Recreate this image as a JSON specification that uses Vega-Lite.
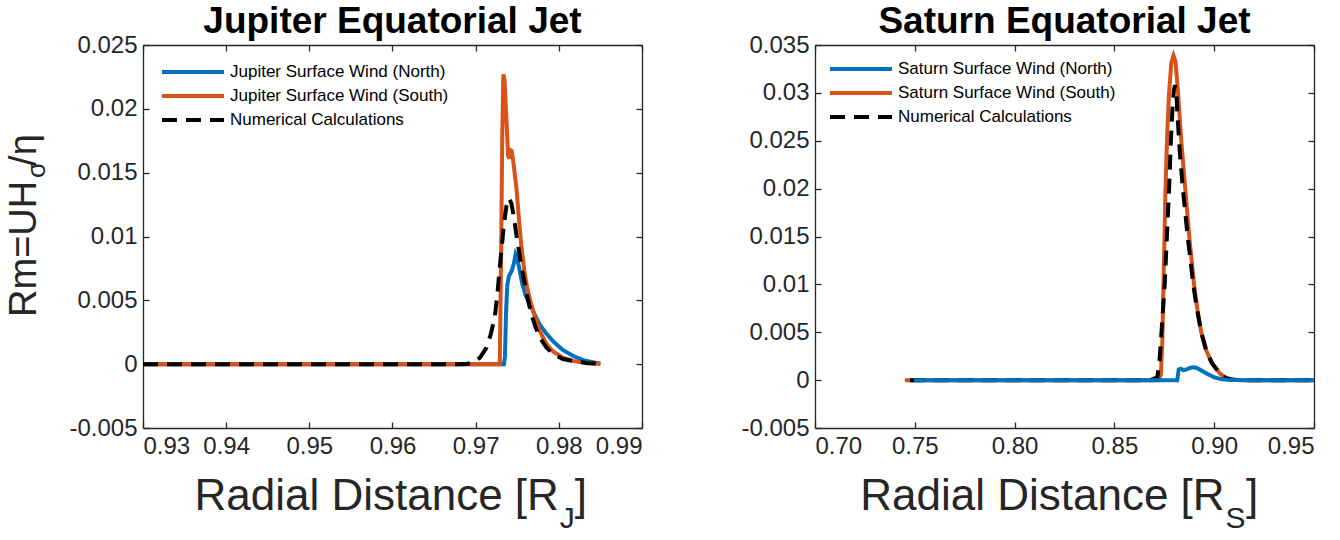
{
  "$schema": "https://vega.github.io/schema/vega-lite/v6.json",
  "background": "white",
  "padding": {"left": 5, "top": 3, "right": 0, "bottom": 0},
  "datasets": {
    "jupiter": [
      {"r": 0.930, "rm": 0, "series": "Jupiter Surface Wind (North)"},
      {"r": 0.9734, "rm": 0, "series": "Jupiter Surface Wind (North)"},
      {"r": 0.97352, "rm": 0.0006, "series": "Jupiter Surface Wind (North)"},
      {"r": 0.97365, "rm": 0.0040, "series": "Jupiter Surface Wind (North)"},
      {"r": 0.9738, "rm": 0.0062, "series": "Jupiter Surface Wind (North)"},
      {"r": 0.9740, "rm": 0.0069, "series": "Jupiter Surface Wind (North)"},
      {"r": 0.97433, "rm": 0.0073, "series": "Jupiter Surface Wind (North)"},
      {"r": 0.9746, "rm": 0.0079, "series": "Jupiter Surface Wind (North)"},
      {"r": 0.9748, "rm": 0.0086, "series": "Jupiter Surface Wind (North)"},
      {"r": 0.9750, "rm": 0.0083, "series": "Jupiter Surface Wind (North)"},
      {"r": 0.9753, "rm": 0.0073, "series": "Jupiter Surface Wind (North)"},
      {"r": 0.9756, "rm": 0.0063, "series": "Jupiter Surface Wind (North)"},
      {"r": 0.9760, "rm": 0.0054, "series": "Jupiter Surface Wind (North)"},
      {"r": 0.9765, "rm": 0.0047, "series": "Jupiter Surface Wind (North)"},
      {"r": 0.9771, "rm": 0.0039, "series": "Jupiter Surface Wind (North)"},
      {"r": 0.9777, "rm": 0.0031, "series": "Jupiter Surface Wind (North)"},
      {"r": 0.9785, "rm": 0.0024, "series": "Jupiter Surface Wind (North)"},
      {"r": 0.9793, "rm": 0.0018, "series": "Jupiter Surface Wind (North)"},
      {"r": 0.9805, "rm": 0.0011, "series": "Jupiter Surface Wind (North)"},
      {"r": 0.9817, "rm": 0.00065, "series": "Jupiter Surface Wind (North)"},
      {"r": 0.9830, "rm": 0.0003, "series": "Jupiter Surface Wind (North)"},
      {"r": 0.9845, "rm": 0.0001, "series": "Jupiter Surface Wind (North)"},
      {"r": 0.9850, "rm": 0.00005, "series": "Jupiter Surface Wind (North)"},

      {"r": 0.930, "rm": 0, "series": "Jupiter Surface Wind (South)"},
      {"r": 0.9729, "rm": 0, "series": "Jupiter Surface Wind (South)"},
      {"r": 0.97305, "rm": 0.008, "series": "Jupiter Surface Wind (South)"},
      {"r": 0.9732, "rm": 0.018, "series": "Jupiter Surface Wind (South)"},
      {"r": 0.97333, "rm": 0.0227, "series": "Jupiter Surface Wind (South)"},
      {"r": 0.97348, "rm": 0.0222, "series": "Jupiter Surface Wind (South)"},
      {"r": 0.9736, "rm": 0.0205, "series": "Jupiter Surface Wind (South)"},
      {"r": 0.97375, "rm": 0.0185, "series": "Jupiter Surface Wind (South)"},
      {"r": 0.9739, "rm": 0.0163, "series": "Jupiter Surface Wind (South)"},
      {"r": 0.97405, "rm": 0.0161, "series": "Jupiter Surface Wind (South)"},
      {"r": 0.9741, "rm": 0.0168, "series": "Jupiter Surface Wind (South)"},
      {"r": 0.97433, "rm": 0.0167, "series": "Jupiter Surface Wind (South)"},
      {"r": 0.9745, "rm": 0.0160, "series": "Jupiter Surface Wind (South)"},
      {"r": 0.9749, "rm": 0.0138, "series": "Jupiter Surface Wind (South)"},
      {"r": 0.9752, "rm": 0.0114, "series": "Jupiter Surface Wind (South)"},
      {"r": 0.9755, "rm": 0.0092, "series": "Jupiter Surface Wind (South)"},
      {"r": 0.9758, "rm": 0.0076, "series": "Jupiter Surface Wind (South)"},
      {"r": 0.9761, "rm": 0.0063, "series": "Jupiter Surface Wind (South)"},
      {"r": 0.9765, "rm": 0.0051, "series": "Jupiter Surface Wind (South)"},
      {"r": 0.9769, "rm": 0.0042, "series": "Jupiter Surface Wind (South)"},
      {"r": 0.9773, "rm": 0.0034, "series": "Jupiter Surface Wind (South)"},
      {"r": 0.9777, "rm": 0.0026, "series": "Jupiter Surface Wind (South)"},
      {"r": 0.9785, "rm": 0.0016, "series": "Jupiter Surface Wind (South)"},
      {"r": 0.9793, "rm": 0.0010, "series": "Jupiter Surface Wind (South)"},
      {"r": 0.9805, "rm": 0.0005, "series": "Jupiter Surface Wind (South)"},
      {"r": 0.9817, "rm": 0.00025, "series": "Jupiter Surface Wind (South)"},
      {"r": 0.9833, "rm": 0.00008, "series": "Jupiter Surface Wind (South)"},
      {"r": 0.9850, "rm": 0.00002, "series": "Jupiter Surface Wind (South)"},

      {"r": 0.930, "rm": 0, "series": "Numerical Calculations"},
      {"r": 0.968, "rm": 0, "series": "Numerical Calculations"},
      {"r": 0.9690, "rm": 0.00003, "series": "Numerical Calculations"},
      {"r": 0.9697, "rm": 0.00013, "series": "Numerical Calculations"},
      {"r": 0.9705, "rm": 0.0005, "series": "Numerical Calculations"},
      {"r": 0.9713, "rm": 0.0013, "series": "Numerical Calculations"},
      {"r": 0.9718, "rm": 0.0023, "series": "Numerical Calculations"},
      {"r": 0.9723, "rm": 0.0037, "series": "Numerical Calculations"},
      {"r": 0.9726, "rm": 0.0054, "series": "Numerical Calculations"},
      {"r": 0.9729, "rm": 0.0076, "series": "Numerical Calculations"},
      {"r": 0.9732, "rm": 0.0096, "series": "Numerical Calculations"},
      {"r": 0.9734, "rm": 0.0110, "series": "Numerical Calculations"},
      {"r": 0.9737, "rm": 0.0124, "series": "Numerical Calculations"},
      {"r": 0.9740, "rm": 0.0130, "series": "Numerical Calculations"},
      {"r": 0.9743, "rm": 0.0126, "series": "Numerical Calculations"},
      {"r": 0.9746, "rm": 0.0115, "series": "Numerical Calculations"},
      {"r": 0.9749, "rm": 0.0101, "series": "Numerical Calculations"},
      {"r": 0.9752, "rm": 0.0089, "series": "Numerical Calculations"},
      {"r": 0.9755, "rm": 0.0076, "series": "Numerical Calculations"},
      {"r": 0.9759, "rm": 0.0063, "series": "Numerical Calculations"},
      {"r": 0.9763, "rm": 0.0050, "series": "Numerical Calculations"},
      {"r": 0.9767, "rm": 0.0039, "series": "Numerical Calculations"},
      {"r": 0.9772, "rm": 0.0029, "series": "Numerical Calculations"},
      {"r": 0.9777, "rm": 0.0021, "series": "Numerical Calculations"},
      {"r": 0.9785, "rm": 0.0013, "series": "Numerical Calculations"},
      {"r": 0.9793, "rm": 0.0008, "series": "Numerical Calculations"},
      {"r": 0.9805, "rm": 0.0004, "series": "Numerical Calculations"},
      {"r": 0.9817, "rm": 0.00026, "series": "Numerical Calculations"},
      {"r": 0.9833, "rm": 0.0001, "series": "Numerical Calculations"},
      {"r": 0.9850, "rm": 0.00002, "series": "Numerical Calculations"}
    ],
    "saturn": [
      {"r": 0.7496, "rm": 0, "series": "Saturn Surface Wind (North)"},
      {"r": 0.8700, "rm": 0, "series": "Saturn Surface Wind (North)"},
      {"r": 0.8815, "rm": 0, "series": "Saturn Surface Wind (North)"},
      {"r": 0.8822, "rm": 0.0011, "series": "Saturn Surface Wind (North)"},
      {"r": 0.8832, "rm": 0.0012, "series": "Saturn Surface Wind (North)"},
      {"r": 0.8845, "rm": 0.00105, "series": "Saturn Surface Wind (North)"},
      {"r": 0.8860, "rm": 0.0011, "series": "Saturn Surface Wind (North)"},
      {"r": 0.8875, "rm": 0.00125, "series": "Saturn Surface Wind (North)"},
      {"r": 0.8895, "rm": 0.00135, "series": "Saturn Surface Wind (North)"},
      {"r": 0.8915, "rm": 0.00125, "series": "Saturn Surface Wind (North)"},
      {"r": 0.8940, "rm": 0.00095, "series": "Saturn Surface Wind (North)"},
      {"r": 0.8970, "rm": 0.0006, "series": "Saturn Surface Wind (North)"},
      {"r": 0.9000, "rm": 0.0003, "series": "Saturn Surface Wind (North)"},
      {"r": 0.9030, "rm": 0.00012, "series": "Saturn Surface Wind (North)"},
      {"r": 0.9070, "rm": 0.00003, "series": "Saturn Surface Wind (North)"},
      {"r": 0.9120, "rm": 0, "series": "Saturn Surface Wind (North)"},
      {"r": 0.9500, "rm": 0, "series": "Saturn Surface Wind (North)"},

      {"r": 0.7450, "rm": 0, "series": "Saturn Surface Wind (South)"},
      {"r": 0.8720, "rm": 0, "series": "Saturn Surface Wind (South)"},
      {"r": 0.8733, "rm": 0.0006, "series": "Saturn Surface Wind (South)"},
      {"r": 0.8740, "rm": 0.004, "series": "Saturn Surface Wind (South)"},
      {"r": 0.8746, "rm": 0.010, "series": "Saturn Surface Wind (South)"},
      {"r": 0.8756, "rm": 0.020, "series": "Saturn Surface Wind (South)"},
      {"r": 0.8765, "rm": 0.026, "series": "Saturn Surface Wind (South)"},
      {"r": 0.8774, "rm": 0.030, "series": "Saturn Surface Wind (South)"},
      {"r": 0.8785, "rm": 0.0331, "series": "Saturn Surface Wind (South)"},
      {"r": 0.8796, "rm": 0.0339, "series": "Saturn Surface Wind (South)"},
      {"r": 0.8806, "rm": 0.0333, "series": "Saturn Surface Wind (South)"},
      {"r": 0.8819, "rm": 0.030, "series": "Saturn Surface Wind (South)"},
      {"r": 0.8835, "rm": 0.025, "series": "Saturn Surface Wind (South)"},
      {"r": 0.8855, "rm": 0.020, "series": "Saturn Surface Wind (South)"},
      {"r": 0.8875, "rm": 0.015, "series": "Saturn Surface Wind (South)"},
      {"r": 0.8899, "rm": 0.010, "series": "Saturn Surface Wind (South)"},
      {"r": 0.8915, "rm": 0.0075, "series": "Saturn Surface Wind (South)"},
      {"r": 0.8935, "rm": 0.005, "series": "Saturn Surface Wind (South)"},
      {"r": 0.8960, "rm": 0.0031, "series": "Saturn Surface Wind (South)"},
      {"r": 0.8988, "rm": 0.0018, "series": "Saturn Surface Wind (South)"},
      {"r": 0.9028, "rm": 0.0007, "series": "Saturn Surface Wind (South)"},
      {"r": 0.9060, "rm": 0.0002, "series": "Saturn Surface Wind (South)"},
      {"r": 0.9100, "rm": 0.00003, "series": "Saturn Surface Wind (South)"},
      {"r": 0.9150, "rm": 0, "series": "Saturn Surface Wind (South)"},
      {"r": 0.9500, "rm": 0, "series": "Saturn Surface Wind (South)"},

      {"r": 0.7476, "rm": 0, "series": "Numerical Calculations"},
      {"r": 0.8680, "rm": 0, "series": "Numerical Calculations"},
      {"r": 0.8715, "rm": 0.0003, "series": "Numerical Calculations"},
      {"r": 0.8726, "rm": 0.002, "series": "Numerical Calculations"},
      {"r": 0.8736, "rm": 0.005, "series": "Numerical Calculations"},
      {"r": 0.8752, "rm": 0.010, "series": "Numerical Calculations"},
      {"r": 0.8763, "rm": 0.015, "series": "Numerical Calculations"},
      {"r": 0.8774, "rm": 0.020, "series": "Numerical Calculations"},
      {"r": 0.8783, "rm": 0.025, "series": "Numerical Calculations"},
      {"r": 0.8790, "rm": 0.028, "series": "Numerical Calculations"},
      {"r": 0.8798, "rm": 0.0303, "series": "Numerical Calculations"},
      {"r": 0.8804, "rm": 0.0308, "series": "Numerical Calculations"},
      {"r": 0.8810, "rm": 0.0303, "series": "Numerical Calculations"},
      {"r": 0.8815, "rm": 0.0280, "series": "Numerical Calculations"},
      {"r": 0.8827, "rm": 0.024, "series": "Numerical Calculations"},
      {"r": 0.8843, "rm": 0.020, "series": "Numerical Calculations"},
      {"r": 0.8867, "rm": 0.015, "series": "Numerical Calculations"},
      {"r": 0.8895, "rm": 0.010, "series": "Numerical Calculations"},
      {"r": 0.8913, "rm": 0.0075, "series": "Numerical Calculations"},
      {"r": 0.8935, "rm": 0.005, "series": "Numerical Calculations"},
      {"r": 0.8960, "rm": 0.0031, "series": "Numerical Calculations"},
      {"r": 0.8988, "rm": 0.0018, "series": "Numerical Calculations"},
      {"r": 0.9028, "rm": 0.0007, "series": "Numerical Calculations"},
      {"r": 0.9060, "rm": 0.0002, "series": "Numerical Calculations"},
      {"r": 0.9100, "rm": 0.00003, "series": "Numerical Calculations"},
      {"r": 0.9150, "rm": 0, "series": "Numerical Calculations"},
      {"r": 0.9500, "rm": 0, "series": "Numerical Calculations"}
    ]
  },
  "hconcat": [
    {
      "width": 499,
      "height": 383,
      "title": {"text": "Jupiter Equatorial Jet", "frame": "group"},
      "data": {"name": "jupiter"},
      "layer": [
        {
          "transform": [{"filter": "datum.series === 'Jupiter Surface Wind (North)'"}],
          "mark": {"type": "line", "strokeWidth": 4},
          "encoding": {
            "x": {"field": "r", "type": "quantitative",
                  "scale": {"domain": [0.93, 0.99], "nice": false, "zero": false},
                  "axis": {"orient": "bottom", "title": null, "format": ".2f",
                           "values": [0.93, 0.94, 0.95, 0.96, 0.97, 0.98, 0.99]}},
            "y": {"field": "rm", "type": "quantitative",
                  "scale": {"domain": [-0.005, 0.025], "nice": false, "zero": false},
                  "axis": {"orient": "left", "title": null,
                           "values": [-0.005, 0, 0.005, 0.01, 0.015, 0.02, 0.025],
                           "labelExpr": "datum.value < 0 ? '-' + format(-datum.value, '~g') : format(datum.value, '~g')"}},
            "color": {"field": "series", "type": "nominal",
                      "scale": {"domain": ["Jupiter Surface Wind (North)", "Jupiter Surface Wind (South)", "Numerical Calculations"],
                                "range": ["#0072BD", "#D95319", "#000000"]},
                      "legend": {"title": null, "orient": "none", "legendX": 17, "legendY": 15}},
            "strokeDash": {"field": "series", "type": "nominal",
                           "scale": {"domain": ["Jupiter Surface Wind (North)", "Jupiter Surface Wind (South)", "Numerical Calculations"],
                                     "range": [[1, 0], [1, 0], [15, 9]]},
                           "legend": {"title": null, "orient": "none", "legendX": 17, "legendY": 15}}
          }
        },
        {
          "transform": [{"filter": "datum.series === 'Jupiter Surface Wind (South)'"}],
          "mark": {"type": "line", "strokeWidth": 4},
          "encoding": {
            "x": {"field": "r", "type": "quantitative",
                  "scale": {"domain": [0.93, 0.99], "nice": false, "zero": false},
                  "axis": {"orient": "top", "title": null, "labels": false,
                           "values": [0.93, 0.94, 0.95, 0.96, 0.97, 0.98, 0.99]}},
            "y": {"field": "rm", "type": "quantitative",
                  "scale": {"domain": [-0.005, 0.025], "nice": false, "zero": false},
                  "axis": {"orient": "right", "title": null, "labels": false,
                           "values": [-0.005, 0, 0.005, 0.01, 0.015, 0.02, 0.025]}},
            "color": {"field": "series", "type": "nominal"},
            "strokeDash": {"field": "series", "type": "nominal"}
          }
        },
        {
          "transform": [{"filter": "datum.series === 'Numerical Calculations'"}],
          "mark": {"type": "line", "strokeWidth": 4},
          "encoding": {
            "x": {"field": "r", "type": "quantitative",
                  "scale": {"domain": [0.93, 0.99], "nice": false, "zero": false}, "axis": null},
            "y": {"field": "rm", "type": "quantitative",
                  "scale": {"domain": [-0.005, 0.025], "nice": false, "zero": false}, "axis": null},
            "color": {"field": "series", "type": "nominal"},
            "strokeDash": {"field": "series", "type": "nominal"}
          }
        },
        {
          "data": {"values": [{}]},
          "mark": {"type": "text", "text": "Radial Distance [R", "align": "right", "baseline": "alphabetic", "fontSize": 44, "color": "#262626"},
          "encoding": {
            "x": {"datum": 0.9800, "type": "quantitative", "scale": {"domain": [0.93, 0.99], "nice": false, "zero": false}, "axis": null},
            "y": {"datum": -0.01141, "type": "quantitative", "scale": {"domain": [-0.005, 0.025], "nice": false, "zero": false}, "axis": null}
          }
        },
        {
          "data": {"values": [{}]},
          "mark": {"type": "text", "text": "J", "align": "left", "baseline": "alphabetic", "fontSize": 30, "color": "#262626"},
          "encoding": {
            "x": {"datum": 0.98012, "type": "quantitative", "scale": {"domain": [0.93, 0.99], "nice": false, "zero": false}, "axis": null},
            "y": {"datum": -0.01282, "type": "quantitative", "scale": {"domain": [-0.005, 0.025], "nice": false, "zero": false}, "axis": null}
          }
        },
        {
          "data": {"values": [{}]},
          "mark": {"type": "text", "text": "]", "align": "left", "baseline": "alphabetic", "fontSize": 44, "color": "#262626"},
          "encoding": {
            "x": {"datum": 0.9819, "type": "quantitative", "scale": {"domain": [0.93, 0.99], "nice": false, "zero": false}, "axis": null},
            "y": {"datum": -0.01141, "type": "quantitative", "scale": {"domain": [-0.005, 0.025], "nice": false, "zero": false}, "axis": null}
          }
        },
        {
          "data": {"values": [{}]},
          "mark": {"type": "text", "text": "Rm=UH", "angle": 270, "align": "left", "baseline": "alphabetic", "fontSize": 38, "color": "#262626"},
          "encoding": {
            "x": {"datum": 0.91713, "type": "quantitative", "scale": {"domain": [0.93, 0.99], "nice": false, "zero": false}, "axis": null},
            "y": {"datum": 0.00370, "type": "quantitative", "scale": {"domain": [-0.005, 0.025], "nice": false, "zero": false}, "axis": null}
          }
        },
        {
          "data": {"values": [{}]},
          "mark": {"type": "text", "text": "σ", "angle": 270, "align": "left", "baseline": "alphabetic", "fontSize": 26, "color": "#262626"},
          "encoding": {
            "x": {"datum": 0.91822, "type": "quantitative", "scale": {"domain": [0.93, 0.99], "nice": false, "zero": false}, "axis": null},
            "y": {"datum": 0.01458, "type": "quantitative", "scale": {"domain": [-0.005, 0.025], "nice": false, "zero": false}, "axis": null}
          }
        },
        {
          "data": {"values": [{}]},
          "mark": {"type": "text", "text": "/η", "angle": 270, "align": "left", "baseline": "alphabetic", "fontSize": 38, "color": "#262626"},
          "encoding": {
            "x": {"datum": 0.91713, "type": "quantitative", "scale": {"domain": [0.93, 0.99], "nice": false, "zero": false}, "axis": null},
            "y": {"datum": 0.01553, "type": "quantitative", "scale": {"domain": [-0.005, 0.025], "nice": false, "zero": false}, "axis": null}
          }
        }
      ],
      "resolve": {"axis": {"x": "independent", "y": "independent"}}
    },
    {
      "width": 499,
      "height": 383,
      "title": {"text": "Saturn Equatorial Jet", "frame": "group"},
      "data": {"name": "saturn"},
      "layer": [
        {
          "transform": [{"filter": "datum.series === 'Saturn Surface Wind (South)'"}],
          "mark": {"type": "line", "strokeWidth": 4},
          "encoding": {
            "x": {"field": "r", "type": "quantitative",
                  "scale": {"domain": [0.70, 0.95], "nice": false, "zero": false},
                  "axis": {"orient": "bottom", "title": null, "format": ".2f",
                           "values": [0.70, 0.75, 0.80, 0.85, 0.90, 0.95]}},
            "y": {"field": "rm", "type": "quantitative",
                  "scale": {"domain": [-0.005, 0.035], "nice": false, "zero": false},
                  "axis": {"orient": "left", "title": null,
                           "values": [-0.005, 0, 0.005, 0.01, 0.015, 0.02, 0.025, 0.03, 0.035],
                           "labelExpr": "datum.value < 0 ? '-' + format(-datum.value, '~g') : format(datum.value, '~g')"}},
            "color": {"field": "series", "type": "nominal",
                      "scale": {"domain": ["Saturn Surface Wind (North)", "Saturn Surface Wind (South)", "Numerical Calculations"],
                                "range": ["#0072BD", "#D95319", "#000000"]},
                      "legend": {"title": null, "orient": "none", "legendX": 13, "legendY": 12}},
            "strokeDash": {"field": "series", "type": "nominal",
                           "scale": {"domain": ["Saturn Surface Wind (North)", "Saturn Surface Wind (South)", "Numerical Calculations"],
                                     "range": [[1, 0], [1, 0], [15, 9]]},
                           "legend": {"title": null, "orient": "none", "legendX": 13, "legendY": 12}}
          }
        },
        {
          "transform": [{"filter": "datum.series === 'Numerical Calculations'"}],
          "mark": {"type": "line", "strokeWidth": 4},
          "encoding": {
            "x": {"field": "r", "type": "quantitative",
                  "scale": {"domain": [0.70, 0.95], "nice": false, "zero": false},
                  "axis": {"orient": "top", "title": null, "labels": false,
                           "values": [0.70, 0.75, 0.80, 0.85, 0.90, 0.95]}},
            "y": {"field": "rm", "type": "quantitative",
                  "scale": {"domain": [-0.005, 0.035], "nice": false, "zero": false},
                  "axis": {"orient": "right", "title": null, "labels": false,
                           "values": [-0.005, 0, 0.005, 0.01, 0.015, 0.02, 0.025, 0.03, 0.035]}},
            "color": {"field": "series", "type": "nominal"},
            "strokeDash": {"field": "series", "type": "nominal"}
          }
        },
        {
          "transform": [{"filter": "datum.series === 'Saturn Surface Wind (North)'"}],
          "mark": {"type": "line", "strokeWidth": 4},
          "encoding": {
            "x": {"field": "r", "type": "quantitative",
                  "scale": {"domain": [0.70, 0.95], "nice": false, "zero": false}, "axis": null},
            "y": {"field": "rm", "type": "quantitative",
                  "scale": {"domain": [-0.005, 0.035], "nice": false, "zero": false}, "axis": null},
            "color": {"field": "series", "type": "nominal"},
            "strokeDash": {"field": "series", "type": "nominal"}
          }
        },
        {
          "data": {"values": [{}]},
          "mark": {"type": "text", "text": "Radial Distance [R", "align": "right", "baseline": "alphabetic", "fontSize": 44, "color": "#262626"},
          "encoding": {
            "x": {"datum": 0.9052, "type": "quantitative", "scale": {"domain": [0.70, 0.95], "nice": false, "zero": false}, "axis": null},
            "y": {"datum": -0.01356, "type": "quantitative", "scale": {"domain": [-0.005, 0.035], "nice": false, "zero": false}, "axis": null}
          }
        },
        {
          "data": {"values": [{}]},
          "mark": {"type": "text", "text": "S", "align": "left", "baseline": "alphabetic", "fontSize": 30, "color": "#262626"},
          "encoding": {
            "x": {"datum": 0.9057, "type": "quantitative", "scale": {"domain": [0.70, 0.95], "nice": false, "zero": false}, "axis": null},
            "y": {"datum": -0.01544, "type": "quantitative", "scale": {"domain": [-0.005, 0.035], "nice": false, "zero": false}, "axis": null}
          }
        },
        {
          "data": {"values": [{}]},
          "mark": {"type": "text", "text": "]", "align": "left", "baseline": "alphabetic", "fontSize": 44, "color": "#262626"},
          "encoding": {
            "x": {"datum": 0.9159, "type": "quantitative", "scale": {"domain": [0.70, 0.95], "nice": false, "zero": false}, "axis": null},
            "y": {"datum": -0.01356, "type": "quantitative", "scale": {"domain": [-0.005, 0.035], "nice": false, "zero": false}, "axis": null}
          }
        }
      ],
      "resolve": {"axis": {"x": "independent", "y": "independent"}}
    }
  ],
  "spacing": 97,
  "resolve": {
    "scale": {"color": "independent", "strokeDash": "independent"},
    "legend": {"color": "independent", "strokeDash": "independent"}
  },
  "config": {
    "font": "Liberation Sans",
    "view": {"stroke": null},
    "axis": {
      "grid": false,
      "domainColor": "#262626",
      "domainWidth": 1.3,
      "tickColor": "#262626",
      "tickWidth": 1.3,
      "tickSize": -6,
      "labelColor": "#262626",
      "labelFont": "Liberation Sans",
      "labelFontSize": 24,
      "labelPadding": 12
    },
    "legend": {
      "symbolType": "stroke",
      "symbolSize": 3844,
      "symbolStrokeWidth": 4,
      "labelFont": "Liberation Sans",
      "labelFontSize": 17,
      "labelColor": "#000000",
      "labelLimit": 400,
      "labelOffset": 4,
      "clipHeight": 24,
      "rowPadding": 0,
      "padding": 0
    },
    "title": {
      "font": "Liberation Sans",
      "fontSize": 37,
      "fontWeight": "bold",
      "color": "#000000",
      "offset": -8,
      "anchor": "middle"
    }
  }
}
